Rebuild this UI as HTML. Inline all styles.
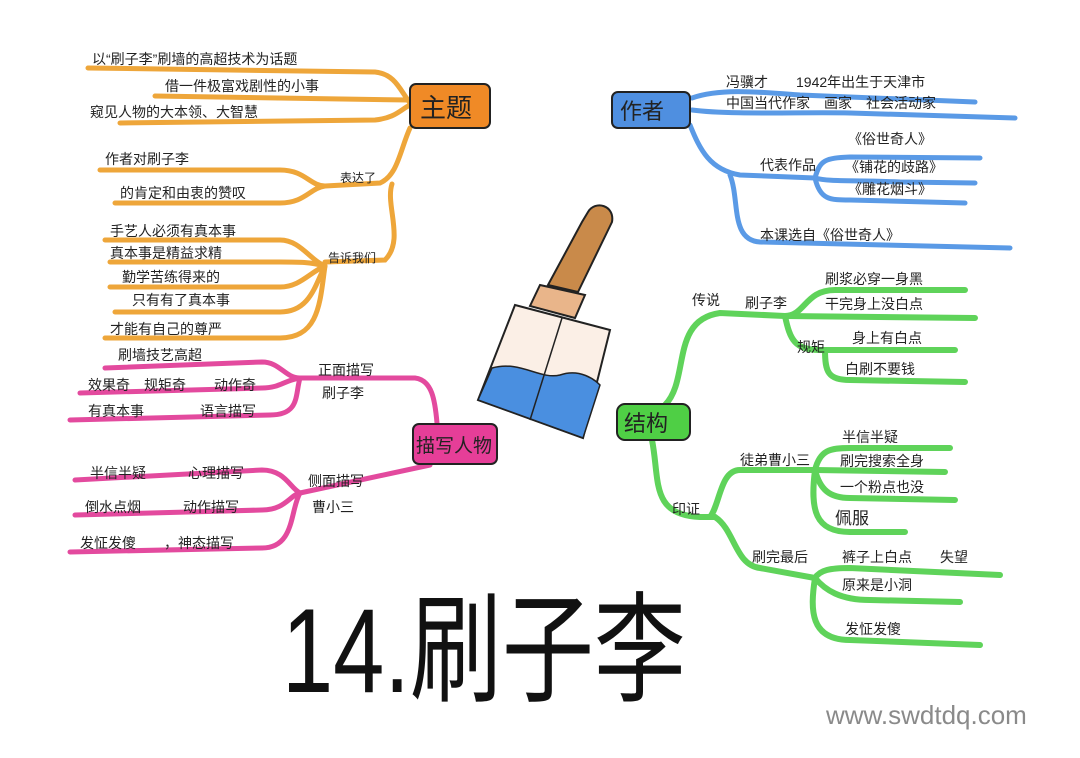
<!DOCTYPE html>
<html><head><meta charset="utf-8"><style>
body{margin:0;background:#fff;}
svg{display:block;}
text{font-family:"Liberation Sans","Noto Sans CJK SC",sans-serif;fill:#222;}
</style></head><body>
<svg width="1080" height="758" viewBox="0 0 1080 758" xmlns="http://www.w3.org/2000/svg">
<rect width="1080" height="758" fill="#fff"/>
<g fill="none" stroke-linecap="round">
<!-- orange -->
<g stroke="#eea63a" stroke-width="5">
<path d="M88,68 L375,72 C395,74 400,90 410,103"/>
<path d="M155,96 L408,100"/>
<path d="M120,123 L375,120 C395,118 400,110 410,105"/>
<path d="M410,128 C400,150 398,175 380,183 L325,186"/>
<path d="M325,186 C310,186 305,170 280,170 L100,170"/>
<path d="M325,186 C310,188 305,203 280,203 L115,203"/>
<path d="M392,184 C385,205 405,240 385,260 L325,262"/>
<path d="M325,266 C310,260 300,240 280,240 L105,240"/>
<path d="M325,266 C310,262 300,262 280,262 L110,262"/>
<path d="M325,266 C310,272 300,287 280,287 L110,287"/>
<path d="M325,266 C315,285 310,312 280,312 L115,312"/>
<path d="M325,266 C320,300 320,338 280,338 L105,338"/>
</g>
<!-- pink -->
<g stroke="#e34a9e" stroke-width="5">
<path d="M300,378 L415,378 C432,380 435,400 437,423"/>
<path d="M300,378 C285,378 280,362 262,362 L105,368"/>
<path d="M300,378 C285,380 280,388 262,388 L80,393"/>
<path d="M300,378 C295,395 300,415 270,415 L70,420"/>
<path d="M430,465 L300,493"/>
<path d="M300,493 C290,488 285,470 262,470 L75,480"/>
<path d="M300,493 C290,495 285,510 262,510 L75,515"/>
<path d="M300,493 C290,510 295,548 262,548 L70,552"/>
</g>
<!-- blue -->
<g stroke="#5a9ae6" stroke-width="5">
<path d="M692,98 C720,88 760,92 800,95 L975,102"/>
<path d="M692,110 C730,115 800,112 850,113 L1015,118"/>
<path d="M690,125 C700,150 710,170 740,175 L815,178"/>
<path d="M815,178 C820,160 825,158 850,157 L980,158"/>
<path d="M815,178 C830,182 850,180 900,182 L975,183"/>
<path d="M815,178 C820,200 830,200 850,200 L965,203"/>
<path d="M730,175 C740,200 730,240 760,242 L1010,248"/>
</g>
<!-- green -->
<g stroke="#5fd35a" stroke-width="6">
<path d="M665,405 C690,380 670,320 720,313 L785,316"/>
<path d="M785,316 C805,316 805,290 835,290 L965,290"/>
<path d="M785,316 L975,318"/>
<path d="M785,316 C790,340 795,350 820,350 L955,350"/>
<path d="M825,350 C825,372 828,380 850,380 L965,382"/>
<path d="M652,440 C660,480 650,515 700,517 L715,517"/>
<path d="M710,517 C720,505 720,470 740,470 L815,470"/>
<path d="M815,470 C820,450 830,448 850,448 L950,448"/>
<path d="M815,470 L945,472"/>
<path d="M815,470 C820,490 830,498 850,498 L955,500"/>
<path d="M815,470 C810,510 815,532 850,532 L905,532"/>
<path d="M715,517 C735,530 735,565 760,568 L815,578"/>
<path d="M815,578 C820,570 830,568 850,568 L1000,575"/>
<path d="M815,578 C825,590 840,600 870,600 L960,602"/>
<path d="M815,578 C810,610 810,640 850,640 L980,645"/>
</g>
</g>
<!-- boxes -->
<rect x="410" y="84" width="80" height="44" rx="6" fill="#f08a26" stroke="#222" stroke-width="2"/>
<text x="420" y="117" font-size="26">主题</text>
<rect x="612" y="92" width="78" height="36" rx="6" fill="#4f8fe0" stroke="#222" stroke-width="2"/>
<text x="620" y="119" font-size="22">作者</text>
<rect x="413" y="424" width="84" height="40" rx="6" fill="#e63e98" stroke="#222" stroke-width="2"/>
<text x="416" y="452" font-size="19">描写人物</text>
<rect x="617" y="404" width="73" height="36" rx="8" fill="#4fcf45" stroke="#222" stroke-width="2"/>
<text x="624" y="431" font-size="22">结构</text>
<!-- brush -->
<path d="M588,212 C595,200 615,205 612,222 L578,292 L548,285 L582,222 Z" fill="#c98a4a" stroke="#222" stroke-width="2"/>
<path d="M540,285 L585,295 L575,318 L530,306 Z" fill="#e9b58a" stroke="#222" stroke-width="2"/>
<path d="M515,305 L610,330 L583,438 L478,400 Z" fill="#fbefe6" stroke="#222" stroke-width="2"/>
<path d="M492,368 C520,360 540,380 560,375 C580,368 595,380 600,385 L583,438 L478,400 Z" fill="#4a8fe0" stroke="#222" stroke-width="1.5"/>
<line x1="562" y1="318" x2="530" y2="420" stroke="#222" stroke-width="1.5"/>
<g font-size="14">
<text x="92" y="64">以“刷子李”刷墙的高超技术为话题</text>
<text x="165" y="91">借一件极富戏剧性的小事</text>
<text x="90" y="117">窥见人物的大本领、大智慧</text>
<text x="105" y="164">作者对刷子李</text>
<text x="120" y="198">的肯定和由衷的赞叹</text>
<text x="340" y="182" font-size="12">表达了</text>
<text x="328" y="262" font-size="12">告诉我们</text>
<text x="110" y="236">手艺人必须有真本事</text>
<text x="110" y="258">真本事是精益求精</text>
<text x="122" y="282">勤学苦练得来的</text>
<text x="132" y="305">只有有了真本事</text>
<text x="110" y="334">才能有自己的尊严</text>
<text x="118" y="360">刷墙技艺高超</text>
<text x="88" y="390">效果奇　规矩奇　　动作奇</text>
<text x="88" y="416">有真本事　　　　语言描写</text>
<text x="318" y="375">正面描写</text>
<text x="322" y="398">刷子李</text>
<text x="90" y="478">半信半疑　　　心理描写</text>
<text x="85" y="512">倒水点烟　　　动作描写</text>
<text x="80" y="548">发怔发傻　　，神态描写</text>
<text x="308" y="486">侧面描写</text>
<text x="312" y="512">曹小三</text>
<text x="726" y="87">冯骥才　　1942年出生于天津市</text>
<text x="726" y="108">中国当代作家　画家　社会活动家</text>
<text x="760" y="170">代表作品</text>
<text x="848" y="144">《俗世奇人》</text>
<text x="845" y="172">《铺花的歧路》</text>
<text x="848" y="194">《雕花烟斗》</text>
<text x="760" y="240">本课选自《俗世奇人》</text>
<text x="692" y="305">传说</text>
<text x="745" y="308">刷子李</text>
<text x="825" y="284">刷浆必穿一身黑</text>
<text x="825" y="309">干完身上没白点</text>
<text x="797" y="352">规矩</text>
<text x="852" y="343">身上有白点</text>
<text x="845" y="374">白刷不要钱</text>
<text x="672" y="514">印证</text>
<text x="740" y="465">徒弟曹小三</text>
<text x="842" y="442">半信半疑</text>
<text x="840" y="466">刷完搜索全身</text>
<text x="840" y="492">一个粉点也没</text>
<text x="835" y="524" font-size="17">佩服</text>
<text x="752" y="562">刷完最后</text>
<text x="842" y="562">裤子上白点　　失望</text>
<text x="842" y="590">原来是小洞</text>
<text x="845" y="634">发怔发傻</text>
</g>
<text transform="translate(282,692) scale(1,1.3)" font-size="92" style="fill:#111">14.刷子李</text>
<text x="826" y="724" font-size="26" style="fill:#8a8a8a">www.swdtdq.com</text>
</svg>
</body></html>
